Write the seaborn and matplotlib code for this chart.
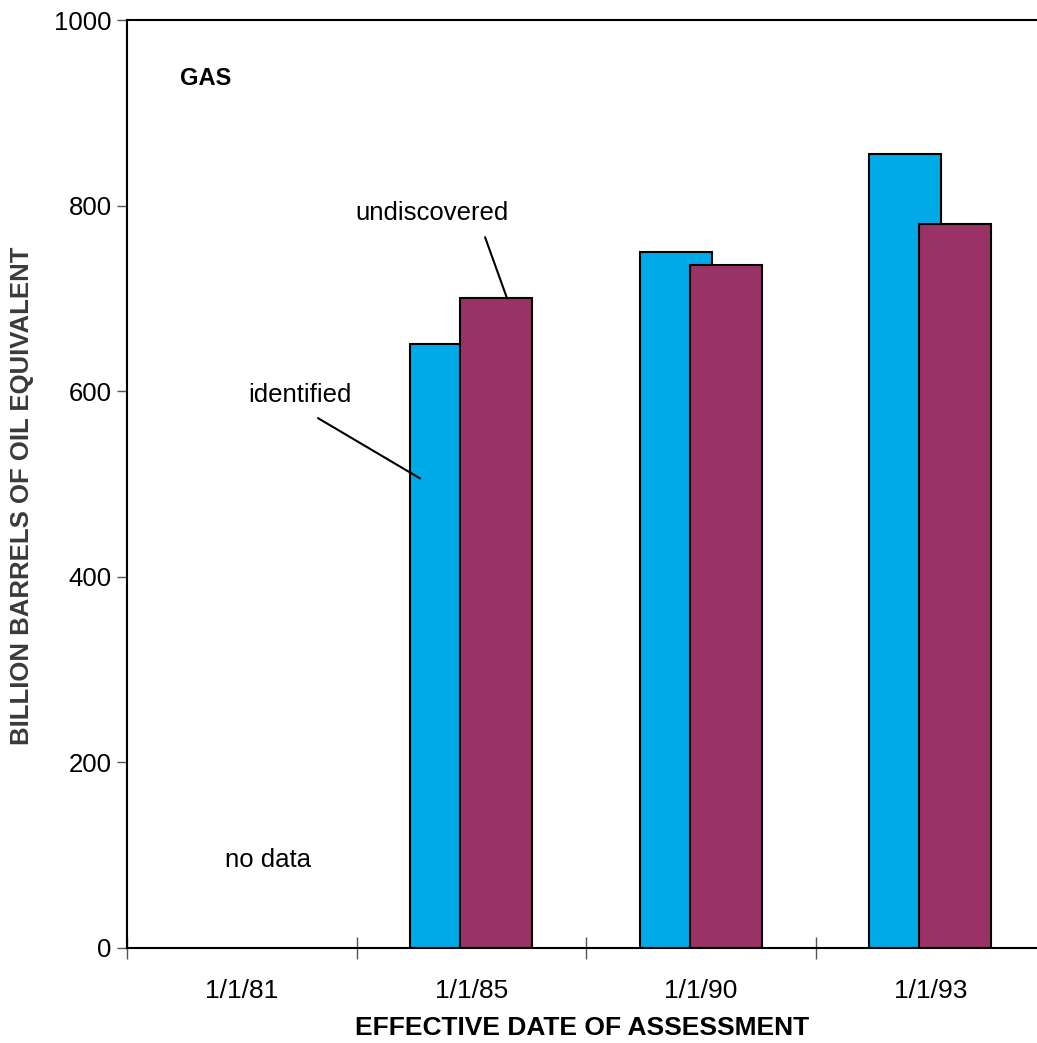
import numpy as np
import pandas as pd
import seaborn as sns
import matplotlib.pyplot as plt
from matplotlib.ticker import FixedLocator

# data (billion barrels of oil equivalent)
dates = ["1/1/81", "1/1/85", "1/1/90", "1/1/93"]
identified = [np.nan, 651, 750, 856]
undiscovered = [np.nan, 700, 736, 780]
series = ["identified", "undiscovered"]
colors = ["#00aae6", "#993366"]
yticks = [0, 200, 400, 600, 800, 1000]

df = pd.DataFrame({
    "date": dates * 2,
    "value": identified + undiscovered,
    "kind": ["identified"] * len(dates) + ["undiscovered"] * len(dates),
})

sns.set_style("white")
plt.rcParams["font.family"] = ["Liberation Sans", "DejaVu Sans"]
plt.rcParams["text.color"] = "black"
plt.rcParams["axes.labelcolor"] = "black"
plt.rcParams["xtick.color"] = "black"
plt.rcParams["ytick.color"] = "black"

fig = plt.figure(figsize=(10.37, 10.43), dpi=100)
ax = fig.add_axes([0.1225, 0.0911, 0.8775, 0.8897])

sns.barplot(data=df, x="date", y="value", hue="kind", order=dates,
            hue_order=series, palette=colors, width=0.436, dodge=True,
            edgecolor="black", linewidth=1.5, saturation=1, legend=False, ax=ax)

# widen the dodged bars so they overlap like the original
bar_w = 0.314
for p in ax.patches:
    c = p.get_x() + p.get_width() / 2
    p.set_x(c - bar_w / 2)
    p.set_width(bar_w)

ax.set_xlim(-0.5, 3.465)
ax.set_ylim(0, 1000)
ax.set_yticks(yticks)
ax.set_yticklabels([str(t) for t in yticks], fontsize=18.5)
ax.tick_params(axis="y", direction="out", length=7, width=1, color="#555555", pad=4, left=True)
ax.tick_params(axis="x", which="major", length=0, labelsize=19, pad=22)
ax.xaxis.set_minor_locator(FixedLocator(np.arange(-0.5, 3.5, 1.0)))
ax.tick_params(axis="x", which="minor", direction="inout", length=16, width=1,
               color="#555555", bottom=True)

for side in ["left", "bottom", "top"]:
    ax.spines[side].set_visible(True)
    ax.spines[side].set_color("black")
    ax.spines[side].set_linewidth(1.5)
ax.spines["right"].set_visible(False)

ax.set_xlabel("EFFECTIVE DATE OF ASSESSMENT", fontsize=19, fontweight="bold")
ax.xaxis.set_label_coords(0.5, -0.073)
ax.set_ylabel("BILLION BARRELS OF OIL EQUIVALENT", fontsize=18.5, fontweight="bold",
              color="#3a3a3a")
ax.yaxis.set_label_coords(-0.102, 0.487)

# annotations
ax.text(-0.27, 937, "GAS", fontsize=17, fontweight="bold", ha="left", va="center")
ax.text(0.829, 792, "undiscovered", fontsize=18.5, ha="center", va="center")
ax.text(0.254, 596, "identified", fontsize=18.5, ha="center", va="center")
ax.text(0.114, 95, "no data", fontsize=18.5, ha="center", va="center")
ax.annotate("", xy=(1.156, undiscovered[1]), xytext=(1.06, 766),
            arrowprops=dict(arrowstyle="-", lw=1.5, color="black", shrinkA=0, shrinkB=0))
ax.annotate("", xy=(0.777, 506), xytext=(0.332, 571),
            arrowprops=dict(arrowstyle="-", lw=1.5, color="black", shrinkA=0, shrinkB=0))

plt.savefig("out.png", dpi=100)
